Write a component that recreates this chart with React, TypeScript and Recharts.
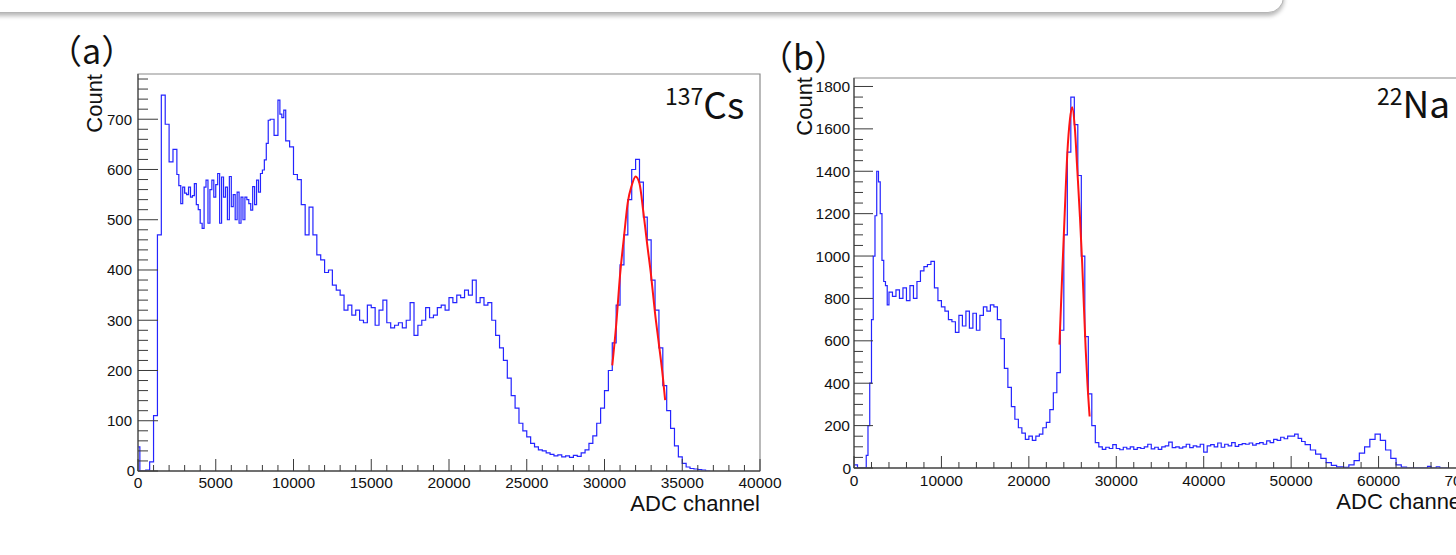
import React from 'react';
import { LineChart, Line, XAxis, YAxis, ReferenceArea } from 'recharts';

// ---------- (a) 137Cs spectrum ----------
const csChannels = [
  0, 120, 500, 750, 1000, 1250, 1500, 1750, 2000, 2250,
  2500, 2625, 2750, 2875, 3000, 3125, 3250, 3375, 3500, 3625,
  3750, 3875, 4000, 4125, 4250, 4375, 4500, 4625, 4750, 4875,
  5000, 5125, 5250, 5375, 5500, 5625, 5750, 5875, 6000, 6125,
  6250, 6375, 6500, 6625, 6750, 6875, 7000, 7125, 7250, 7375,
  7500, 7625, 7750, 7875, 8000, 8125, 8250, 8375, 8500, 8750,
  9000, 9125, 9250, 9375, 9500, 9750,
  10000, 10250, 10500, 10750, 11000, 11250, 11500, 11750, 12000, 12250,
  12500, 12750, 13000, 13250, 13500, 13750, 14000, 14250, 14500, 14750,
  15000, 15250, 15500, 15750, 16000, 16250, 16500, 16750, 17000, 17250,
  17500, 17750, 18000, 18250, 18500, 18750, 19000, 19250, 19500, 19750,
  20000, 20250, 20500, 20750, 21000, 21250, 21500, 21750, 22000, 22250,
  22500, 22750, 23000, 23250, 23500, 23750, 24000, 24250, 24500, 24750,
  25000, 25250, 25500, 25750, 26000, 26250, 26500, 26750, 27000, 27250,
  27500, 27750, 28000, 28250, 28500, 28750, 29000, 29250, 29500, 29750,
  30000, 30250, 30500, 30750, 31000, 31250, 31500, 31750, 32000, 32250,
  32500, 32750, 33000, 33250, 33500, 33750, 34000, 34250, 34500, 34750,
  35000, 35250, 35500, 35750, 36000, 36250, 36500, 36800,
];
const csCounts = [
  48, 0, 2, 18, 110, 470, 748, 690, 615, 640,
  590, 568, 532, 565, 553, 550, 565, 545, 548, 572,
  530, 520, 493, 483, 565, 579, 493, 560, 579, 545,
  570, 592, 493, 585, 545, 565, 500, 586, 526, 550,
  500, 555, 493, 545, 500, 545, 540, 532, 519, 566,
  530, 579, 555, 592, 599, 619, 652, 698, 700, 668,
  738, 710, 703, 718, 657, 645,
  590, 580, 530, 470, 525, 470, 430, 420, 395, 400,
  370, 360, 350, 320, 330, 310, 320, 300, 295, 330,
  325, 290, 320, 340, 295, 285, 290, 295, 285, 300,
  335, 270, 290, 300, 325, 305, 310, 325, 330, 320,
  345, 335, 350, 345, 360, 350, 380, 335, 345, 330,
  335, 300, 270, 245, 220, 185, 150, 125, 95, 80,
  68, 55, 48, 42, 40, 36, 33, 30, 32, 28,
  30, 27, 31, 29, 36, 42, 55, 70, 95, 125,
  160, 200, 255, 330, 410, 470, 540, 600, 620, 575,
  505, 460, 380, 320, 245, 170, 120, 85, 50, 28,
  15, 8, 5, 4, 3, 2, 0, 0,
];
const csFitChannels = [30500, 30750, 31000, 31250, 31500, 31750, 32000, 32250, 32500, 32750, 33000, 33250, 33500, 33750, 33900];
const csFitCounts = [210, 290, 390, 465, 535, 568, 586, 572, 515, 450, 388, 314, 252, 188, 141];

const csXTicks = [
  0, 1000, 2000, 3000, 4000, 5000, 6000, 7000, 8000, 9000,
  10000, 11000, 12000, 13000, 14000, 15000, 16000, 17000, 18000, 19000,
  20000, 21000, 22000, 23000, 24000, 25000, 26000, 27000, 28000, 29000,
  30000, 31000, 32000, 33000, 34000, 35000, 36000, 37000, 38000, 39000, 40000,
];
const csYTicks = [
  0, 20, 40, 60, 80, 100, 120, 140, 160, 180, 200, 220, 240, 260, 280, 300, 320, 340, 360, 380,
  400, 420, 440, 460, 480, 500, 520, 540, 560, 580, 600, 620, 640, 660, 680, 700, 720, 740, 760, 780,
];

// ---------- (b) 22Na spectrum ----------
const naChannels = [
  0, 400, 1400, 1600, 1800, 2000, 2200, 2400, 2600, 2800,
  3000, 3200, 3400, 3600, 3800, 4000, 4400, 4800, 5200, 5600,
  6000, 6400, 6800, 7200, 7600, 8000, 8400, 8800, 9200, 9600,
  10000, 10400, 10800, 11200, 11600, 12000, 12400, 12800, 13200, 13600,
  14000, 14400, 14800, 15200, 15600, 16000, 16400, 16800, 17200, 17600,
  18000, 18400, 18800, 19200, 19600, 20000, 20400, 20800, 21200, 21600,
  22000, 22400, 22800, 23200, 23600, 24000, 24400, 24800, 25200, 25600,
  26000, 26400, 26800, 27200, 27600,
  28000, 28400, 28800, 29200, 29600, 30000, 30400, 30800, 31200, 31600,
  32000, 32400, 32800, 33200, 33600, 34000, 34400, 34800, 35200, 35600,
  36000, 36400, 36800, 37200, 37600, 38000, 38400, 38800, 39200, 39600,
  40000, 40400, 40800, 41200, 41600, 42000, 42400, 42800, 43200, 43600,
  44000, 44400, 44800, 45200, 45600, 46000, 46400, 46800, 47200, 47600,
  48000, 48400, 48800, 49200, 49600, 50000, 50400, 50800, 51200, 51600,
  52200, 52800, 53400, 54000, 54600, 55200, 56000, 56600, 57200, 57800,
  58400, 59000, 59600, 60200, 60800, 61400, 62000, 62600, 63200, 65600,
  66000, 66600, 67000, 68000,
];
const naCounts = [
  15, 0, 60, 200, 400, 700, 1000, 1190, 1400, 1350,
  1200, 980, 880, 860, 770, 830, 810, 840, 800, 850,
  790, 860, 800, 880, 930, 950, 960, 975, 850, 790,
  760, 740, 700, 690, 640, 720, 670, 740, 660, 730,
  650, 720, 760, 740, 770, 760, 700, 610, 470, 380,
  290, 230, 190, 165, 135, 150, 130, 150, 160, 190,
  215, 275, 355, 450, 650, 1100, 1490, 1750, 1620, 1380,
  1000, 620, 350, 200, 120,
  100, 88, 98, 92, 110, 92, 86, 98, 90, 100,
  88, 96, 92, 100, 112, 90, 98, 88, 100, 104,
  122, 96, 100, 94, 100, 112, 96, 104, 100, 112,
  75, 104, 110, 100, 118, 98, 112, 104, 120, 102,
  110, 115, 112, 118, 108, 115, 120, 112, 128, 120,
  135, 130, 145, 138, 150, 150, 160, 140, 125, 110,
  85, 65, 45, 25, 12, 5, 3, 15, 35, 70,
  100, 135, 160, 130, 85, 45, 15, 4, 0, 8,
  0, 6, 0, 0,
];
const naFitChannels = [23500, 23800, 24100, 24400, 24700, 24950, 25250, 25550, 25850, 26100, 26300, 26500, 26700, 26950];
const naFitCounts = [582, 900, 1200, 1485, 1645, 1702, 1610, 1400, 1180, 965, 760, 560, 400, 243];

const naXTicks = [
  0, 2000, 4000, 6000, 8000, 10000, 12000, 14000, 16000, 18000,
  20000, 22000, 24000, 26000, 28000, 30000, 32000, 34000, 36000, 38000,
  40000, 42000, 44000, 46000, 48000, 50000, 52000, 54000, 56000, 58000,
  60000, 62000, 64000, 66000, 68000, 70000,
];
const naYTicks = [
  0, 50, 100, 150, 200, 250, 300, 350, 400, 450, 500, 550, 600, 650, 700, 750, 800, 850, 900, 950,
  1000, 1050, 1100, 1150, 1200, 1250, 1300, 1350, 1400, 1450, 1500, 1550, 1600, 1650, 1700, 1750, 1800,
];

const csData = csChannels.map((x, i) => ({ x, y: csCounts[i] }));
const csFit = csFitChannels.map((x, i) => ({ x, y: csFitCounts[i] }));
const naData = naChannels.map((x, i) => ({ x, y: naCounts[i] }));
const naFit = naFitChannels.map((x, i) => ({ x, y: naFitCounts[i] }));

const TICK_FONT = "'Liberation Sans', Arial, Helvetica, sans-serif";
const TICK_COLOR = '#3a3a3a';
const BLUE = '#2424ff';
const RED = '#ff1414';

function makeXTick(major: number, majorLen: number, minorLen: number, labelDy: number, fontSize: number) {
  return (props: any) => {
    const { x, y, payload } = props;
    const v = payload.value;
    const isMajor = v % major === 0;
    return (
      <g>
        <line x1={x} x2={x} y1={y} y2={y - (isMajor ? majorLen : minorLen)} stroke={TICK_COLOR} strokeWidth={1} />
        {isMajor && (
          <text x={x} y={y + labelDy} textAnchor="middle" fontSize={fontSize} fill="#111" fontFamily={TICK_FONT}>
            {v}
          </text>
        )}
      </g>
    );
  };
}

function makeYTick(major: number, majorLen: number, minorLen: number, gap: number, zeroGap: number, fontSize: number) {
  return (props: any) => {
    const { x, y, payload } = props;
    const v = payload.value;
    const isMajor = v % major === 0;
    return (
      <g>
        <line x1={x} x2={x + (isMajor ? majorLen : minorLen)} y1={y} y2={y} stroke={TICK_COLOR} strokeWidth={1} />
        {isMajor && (
          <text x={x - (v === 0 ? zeroGap : gap)} y={y} dy="0.36em" textAnchor="end" fontSize={fontSize} fill="#111" fontFamily={TICK_FONT}>
            {v}
          </text>
        )}
      </g>
    );
  };
}

const csXTick = makeXTick(5000, 12, 6, 17, 15.5);
const csYTick = makeYTick(100, 20, 10, 6, 3, 15);
const naXTick = makeXTick(10000, 12, 6, 18, 15.5);
const naYTick = makeYTick(200, 19, 9, 4, 3, 15.5);

export default function App() {
  return (
    <div
      style={{
        position: 'fixed',
        left: 0,
        top: 0,
        width: 1456,
        height: 555,
        overflow: 'hidden',
        background: '#fff',
      }}
    >
      {/* decorative rounded box edge at top */}
      <div
        style={{
          position: 'absolute',
          left: -30,
          top: -50,
          width: 1312,
          height: 61,
          border: '1.5px solid #b5b5b5',
          borderRadius: 16,
          boxShadow: '0 3px 4px rgba(0,0,0,0.28)',
          background: '#fff',
        }}
      />

      {/* (a) */}
      <div style={{ position: 'absolute', left: 0, top: 0 }}>
        <LineChart width={800} height={555} margin={{ top: 74, right: 40, bottom: 0, left: 0 }}>
          <XAxis
            dataKey="x"
            type="number"
            domain={[0, 40000]}
            ticks={csXTicks}
            interval={0}
            tickLine={false}
            tickSize={0}
            tickMargin={0}
            height={84}
            axisLine={{ stroke: '#555', strokeWidth: 1.3 }}
            tick={csXTick}
            allowDataOverflow
          />
          <YAxis
            dataKey="y"
            type="number"
            domain={[0, 790]}
            ticks={csYTicks}
            interval={0}
            tickLine={false}
            tickSize={0}
            tickMargin={0}
            width={138}
            axisLine={{ stroke: '#555', strokeWidth: 1.3 }}
            tick={csYTick}
            allowDataOverflow
          />
          <ReferenceArea x1={0} x2={40000} y1={0} y2={790} fill="none" stroke="#8a8a8a" strokeWidth={1.2} ifOverflow="visible" />
          <Line data={csData} dataKey="y" type="stepAfter" stroke={BLUE} strokeWidth={1.2} dot={false} isAnimationActive={false} />
          <Line data={csFit} dataKey="y" type="monotone" stroke={RED} strokeWidth={2} dot={false} isAnimationActive={false} />
        </LineChart>
      </div>

      {/* (b) */}
      <div style={{ position: 'absolute', left: 780, top: 0 }}>
        <LineChart width={700} height={555} margin={{ top: 78, right: 14, bottom: 0, left: 0 }}>
          <XAxis
            dataKey="x"
            type="number"
            domain={[0, 70000]}
            ticks={naXTicks}
            interval={0}
            tickLine={false}
            tickSize={0}
            tickMargin={0}
            height={87}
            axisLine={{ stroke: '#555', strokeWidth: 1.3 }}
            tick={naXTick}
            allowDataOverflow
          />
          <YAxis
            dataKey="y"
            type="number"
            domain={[0, 1840]}
            ticks={naYTicks}
            interval={0}
            tickLine={false}
            tickSize={0}
            tickMargin={0}
            width={74}
            axisLine={{ stroke: '#555', strokeWidth: 1.3 }}
            tick={naYTick}
            allowDataOverflow
          />
          <ReferenceArea x1={0} x2={70000} y1={0} y2={1840} fill="none" stroke="#8a8a8a" strokeWidth={1.2} ifOverflow="visible" />
          <Line data={naData} dataKey="y" type="stepAfter" stroke={BLUE} strokeWidth={1.2} dot={false} isAnimationActive={false} />
          <Line data={naFit} dataKey="y" type="monotone" stroke={RED} strokeWidth={2} dot={false} isAnimationActive={false} />
        </LineChart>
      </div>

      {/* text overlay */}
      <svg width={1456} height={555} style={{ position: 'absolute', left: 0, top: 0, pointerEvents: 'none' }}>
        <text x={48} y={64} fontSize={34} fontFamily="'Noto Sans CJK SC', sans-serif" fill="#111">（a）</text>
        <text x={759} y={70} fontSize={34} fontFamily="'Noto Sans CJK SC', sans-serif" fill="#111">（b）</text>

        <text transform="translate(101.5,74) rotate(-90)" textAnchor="end" fontSize={22} fontFamily={TICK_FONT} fill="#111">Count</text>
        <text transform="translate(811.5,77) rotate(-90)" textAnchor="end" fontSize={22} fontFamily={TICK_FONT} fill="#111">Count</text>

        <text x={760} y={511} textAnchor="end" fontSize={22} fontFamily={TICK_FONT} fill="#111">ADC channel</text>
        <text x={1466} y={509} textAnchor="end" fontSize={22} fontFamily={TICK_FONT} fill="#111">ADC channel</text>

        <text x={665} y={119} fontFamily="'Noto Sans CJK SC', sans-serif" fill="#111">
          <tspan fontSize={23} dy={-14}>137</tspan>
          <tspan fontSize={37} dy={14}>Cs</tspan>
        </text>
        <text x={1377} y={117.5} fontFamily="'Noto Sans CJK SC', sans-serif" fill="#111">
          <tspan fontSize={23} dy={-12.5}>22</tspan>
          <tspan fontSize={37} dy={12.5}>Na</tspan>
        </text>
      </svg>
    </div>
  );
}
